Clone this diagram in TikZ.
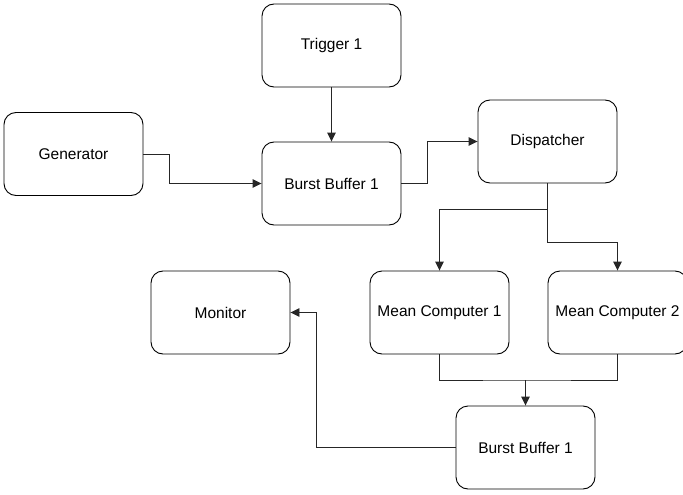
\documentclass[tikz,border=0pt]{standalone}
\usepackage{fontspec}
\setmainfont{Liberation Sans}
\usetikzlibrary{arrows.meta}
\begin{document}
\begin{tikzpicture}[x=1pt,y=-1pt,
  box/.style={draw=black, line width=0.9pt, rounded corners=12pt, minimum width=139pt, minimum height=83pt, inner sep=0pt, font=\fontsize{15.5}{18}\selectfont, fill=white},
  conn/.style={draw=black!85, line width=0.9pt},
  arr/.style={conn, -{Triangle[length=9pt,width=8.5pt]}}]
\useasboundingbox (0,0) rectangle (683,495);
\node[box] (trig) at (331.5,45.5) {Trigger 1};
\node[box] (gen) at (73.5,154) {Generator};
\node[box] (bb1) at (331.5,183.5) {Burst Buffer 1};
\node[box] (disp) at (547.5,141.5) {Dispatcher};
\node[box] (mon) at (220.5,312.5) {Monitor};
\node[box] (mc1) at (439.5,312.5) {Mean Computer 1};
\node[box] (mc2) at (617.5,312.5) {Mean Computer 2};
\node[box] (bb2) at (525.5,447.5) {Burst Buffer 1};
\coordinate (merge) at (525.5,380);
\draw[arr] (trig.south) -- (bb1.north);
\draw[arr] (gen.east) -- ++(26,0) |- (bb1.west);
\draw[arr] (bb1.east) -- ++(26,0) |- (disp.west);
\draw[arr] (disp.south) -- ++(0,26) -| (mc1.north);
\draw[arr] (disp.south) -- ++(0,59) -| (mc2.north);
\draw[conn] (mc1.south) |- (merge) -| (mc2.south);
\draw[arr] (merge) -- (bb2.north);
\draw[arr] (bb2.west) -- (316,447.5) |- (mon.east);
\end{tikzpicture}
\end{document}
